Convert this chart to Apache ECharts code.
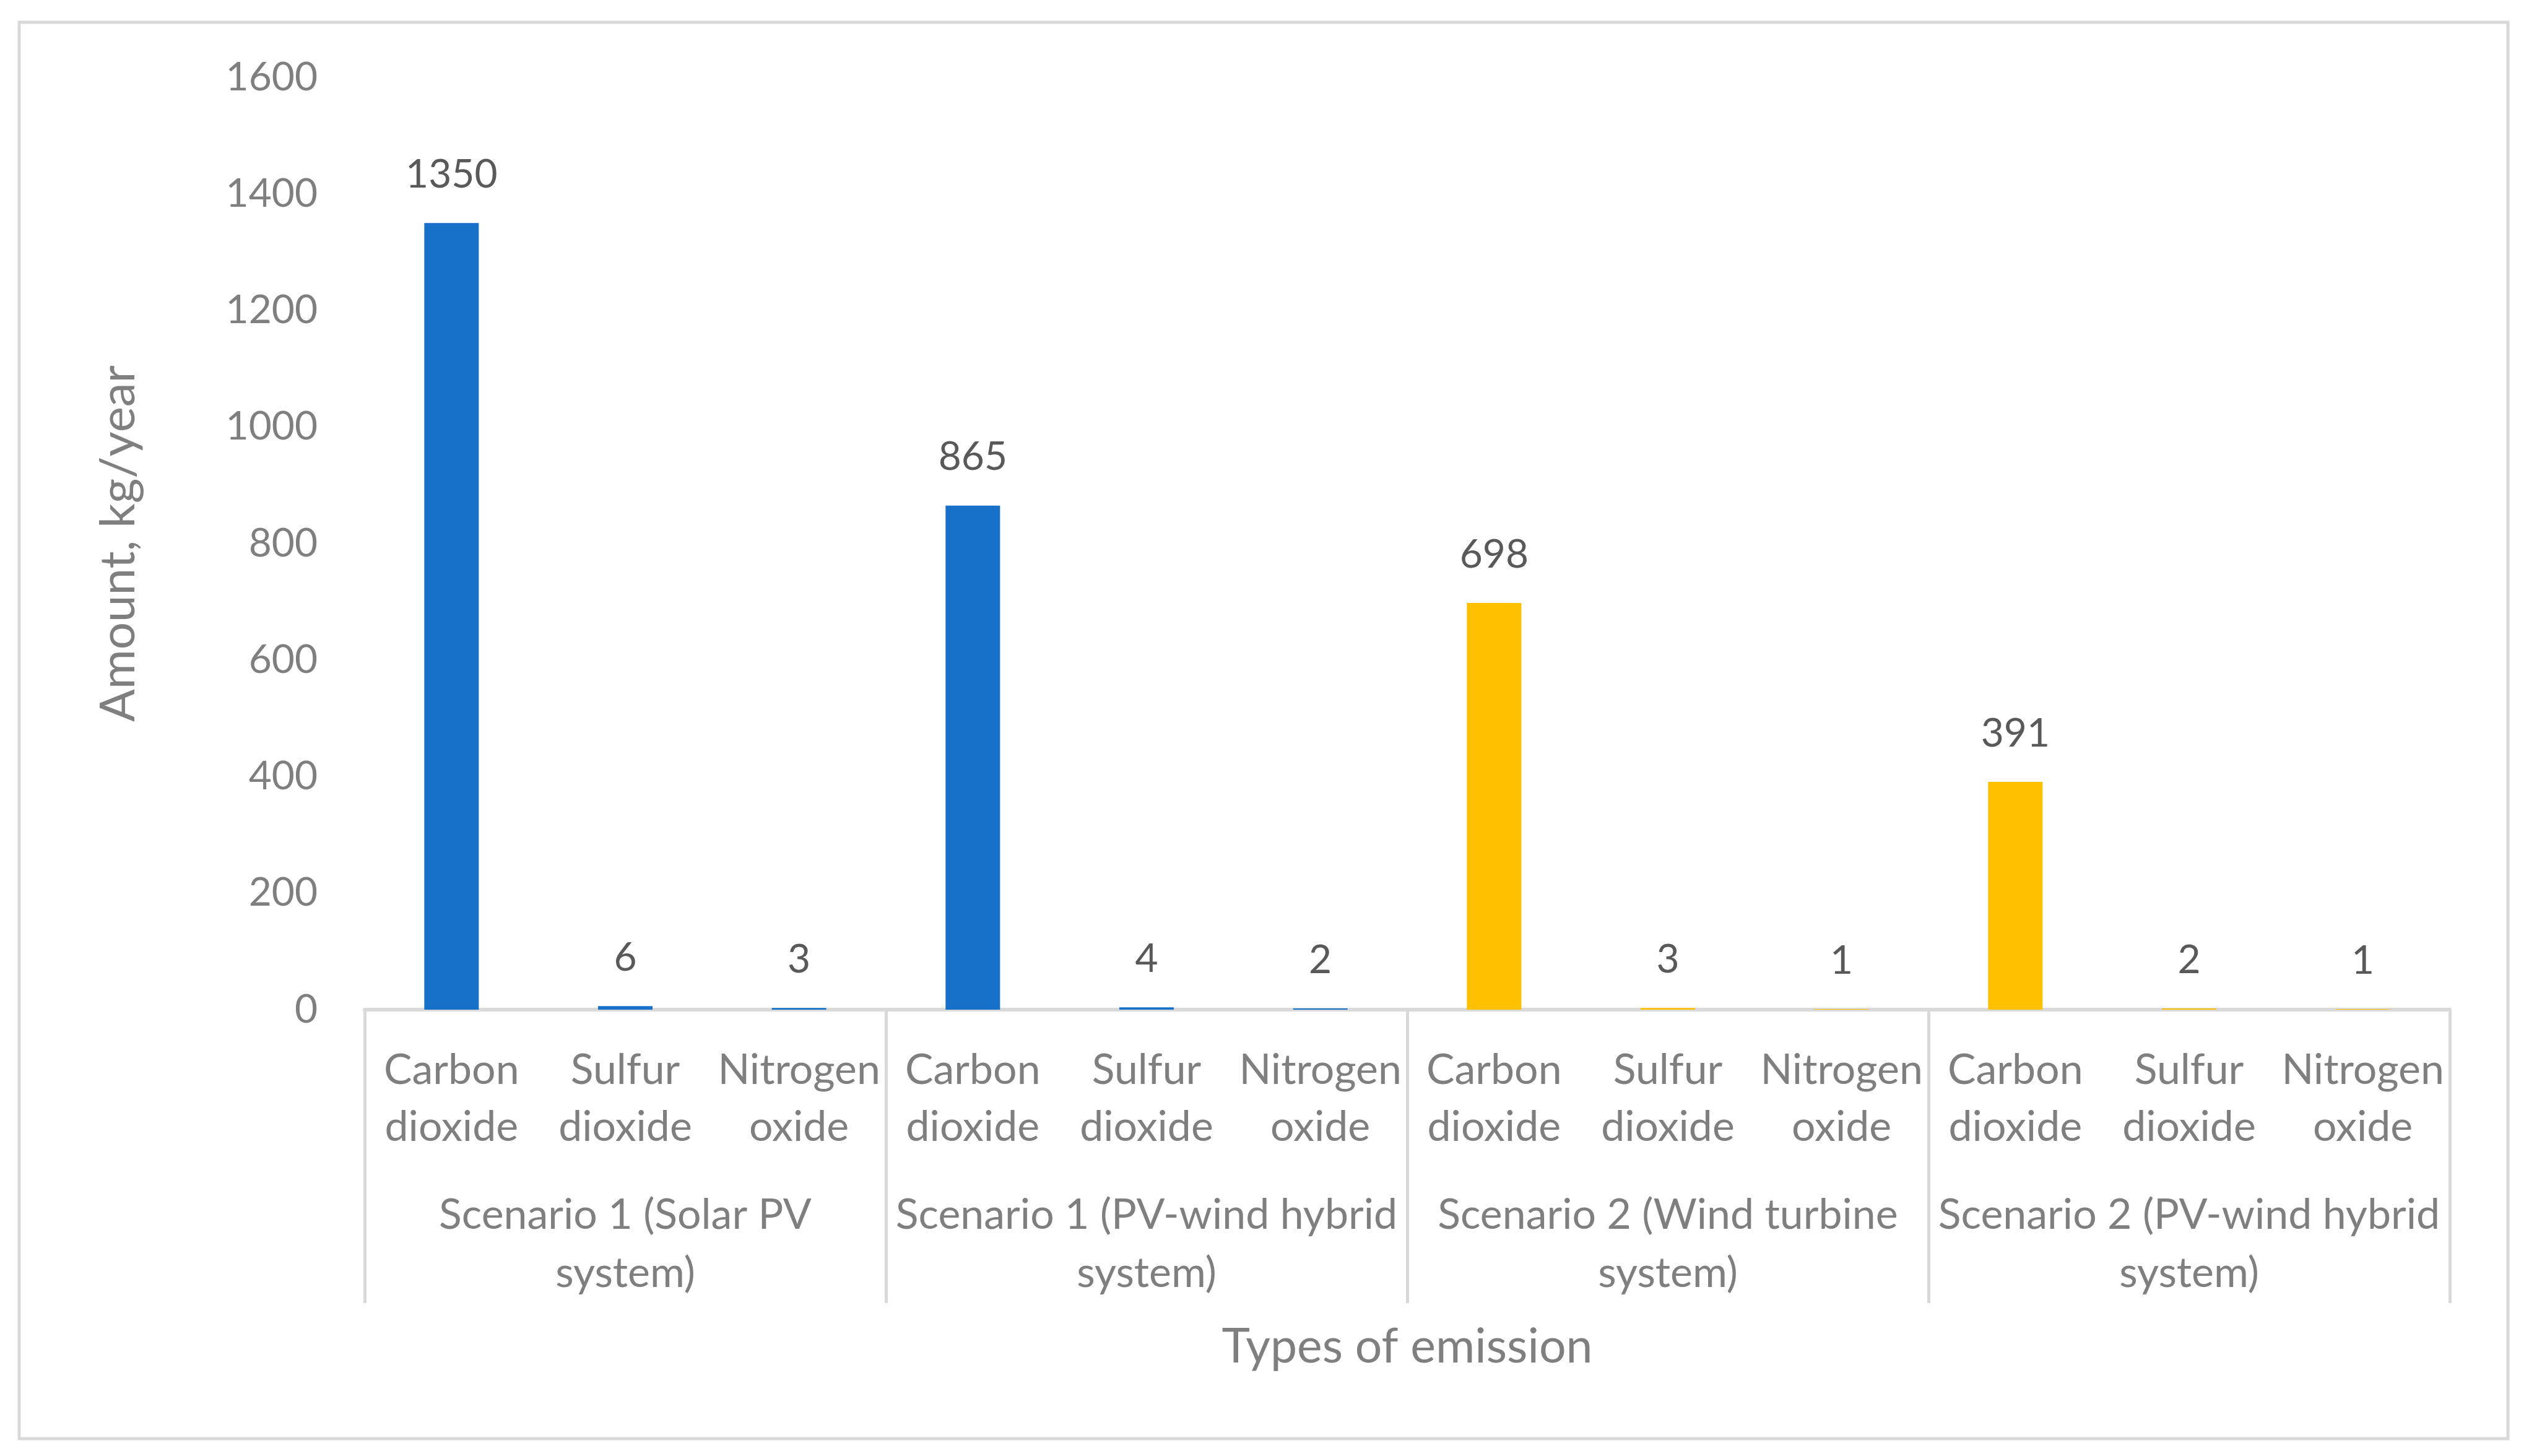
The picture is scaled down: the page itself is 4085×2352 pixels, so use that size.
<!DOCTYPE html>
<html>
<head>
<meta charset="utf-8">
<script src="https://cdn.jsdelivr.net/npm/echarts@6/dist/echarts.min.js"></script>
<style>html,body{margin:0;padding:0;background:#fff;}#c{width:4085px;height:2352px;}</style>
</head>
<body>
<div id="c"></div>
<script>
const emissionTypes = ['Carbon\ndioxide', 'Sulfur\ndioxide', 'Nitrogen\noxide'];
const scenarios = ['Scenario 1 (Solar PV\nsystem)', 'Scenario 1 (PV-wind hybrid\nsystem)', 'Scenario 2 (Wind turbine\nsystem)', 'Scenario 2 (PV-wind hybrid\nsystem)'];
const solarPV = [1350, 6, 3];
const hybrid1 = [865, 4, 2];
const windTurbine = [698, 3, 1];
const hybrid2 = [391, 2, 1];
const yTicks = { min: 0, max: 1600, interval: 200 };
const scenarioColors = ['#1771C9', '#1771C9', '#FFC000', '#FFC000'];

const groups = [solarPV, hybrid1, windTurbine, hybrid2];
const categories = [];
const values = [];
groups.forEach((g, gi) => {
  g.forEach((v, i) => {
    categories.push(emissionTypes[i]);
    values.push({ value: v, itemStyle: { color: scenarioColors[gi] } });
  });
});

const FONT = 'Lato';
const chart = echarts.init(document.getElementById('c'));
chart.setOption({
  animation: false,
  backgroundColor: '#ffffff',
  graphic: [{
    type: 'rect', shape: { x: 31, y: 36, width: 4020, height: 2288 },
    style: { fill: 'none', stroke: '#d9d9d9', lineWidth: 5 }, silent: true
  }],
  grid: { left: 589, right: 128, top: 125, bottom: 721, containLabel: false },
  xAxis: [{
    type: 'category', data: categories, position: 'bottom',
    axisLine: { show: true, lineStyle: { color: '#d9d9d9', width: 6 } },
    axisTick: { show: false },
    axisLabel: { interval: 0, margin: 52, color: '#7f7f7f', fontFamily: FONT, fontSize: 68, lineHeight: 92 }
  }, {
    type: 'category', data: scenarios, position: 'bottom', offset: 0,
    axisLine: { show: false },
    axisTick: { show: true, length: 474, lineStyle: { color: '#d9d9d9', width: 5 } },
    axisLabel: { interval: 0, margin: 285, color: '#7f7f7f', fontFamily: FONT, fontSize: 68, lineHeight: 94 },
    name: 'Types of emission', nameLocation: 'middle', nameGap: 507,
    nameTextStyle: { color: '#7f7f7f', fontFamily: FONT, fontSize: 77 }
  }],
  yAxis: {
    type: 'value', min: yTicks.min, max: yTicks.max, interval: yTicks.interval,
    axisLine: { show: false }, axisTick: { show: false }, splitLine: { show: false },
    axisLabel: { margin: 76, color: '#7f7f7f', fontFamily: FONT, fontSize: 64, formatter: v => String(v) },
    name: 'Amount, kg/year', nameLocation: 'middle', nameGap: 358, nameRotate: 90,
    nameTextStyle: { color: '#7f7f7f', fontFamily: FONT, fontSize: 78 }
  },
  series: [{
    type: 'bar', xAxisIndex: 0, data: values, barWidth: 88,
    label: { show: true, position: 'top', distance: 46, color: '#595959', fontFamily: FONT, fontSize: 64 }
  }]
});
</script>
</body>
</html>
